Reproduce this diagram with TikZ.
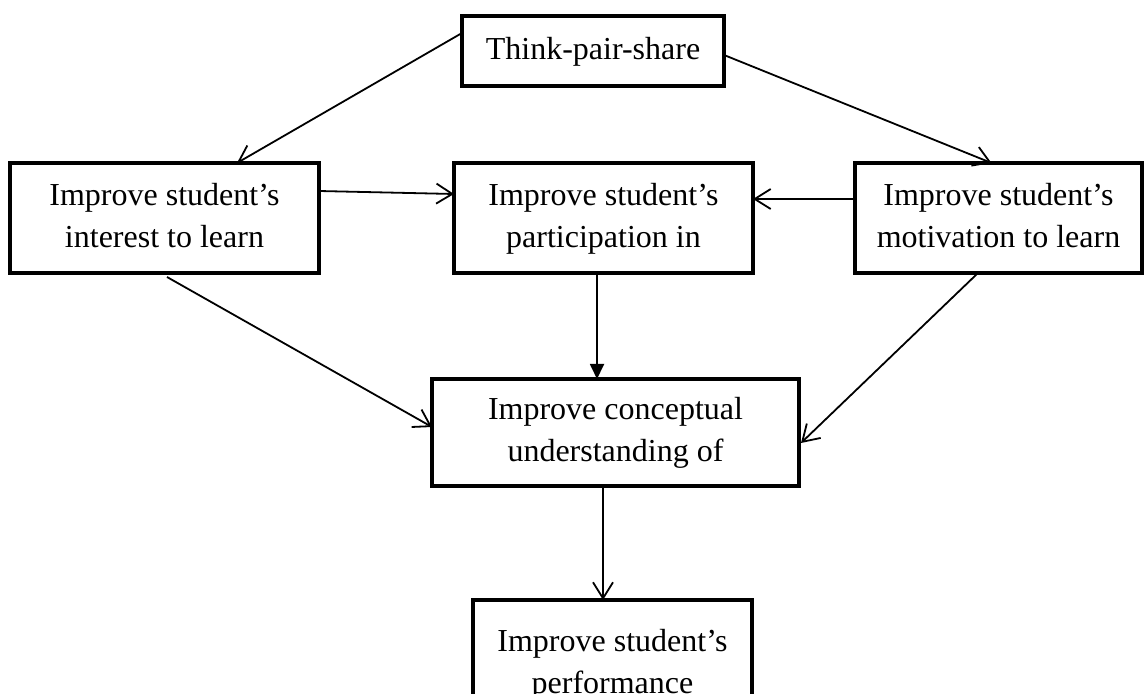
\documentclass[tikz,border=0pt]{standalone}
\usepackage{fontspec}
\setmainfont{Liberation Serif}
\usetikzlibrary{arrows.meta,calc}
\begin{document}
\begin{tikzpicture}[x=0.5pt,y=-0.5pt,
  box/.style={draw, line width=2pt, inner sep=0pt, outer sep=0pt, align=center,
    font=\fontsize{16}{21}\selectfont},
  conn/.style={line width=0.9pt, -{Straight Barb[length=8pt,width=10pt]}},
  fconn/.style={line width=0.9pt, -{Triangle[length=7.5pt,width=7pt]}}]
\clip (0,0) rectangle (1144,694);
\useasboundingbox (0,0) rectangle (1144,694);
\fill[white] (0,0) rectangle (1144,694);

\node[box, minimum width=131pt, minimum height=35pt] (think) at (593,51)
  {\strut Think-pair-share\strut};
\node[box, minimum width=154.5pt, minimum height=55pt] (interest) at (164.5,218)
  {\strut Improve student’s\\interest to learn\strut};
\node[box, minimum width=149.5pt, minimum height=55pt] (participation) at (603.5,218)
  {\strut Improve student’s\\participation in\strut};
\node[box, minimum width=143.5pt, minimum height=55pt] (motivation) at (998.5,218)
  {\strut Improve student’s\\motivation to learn\strut};
\node[box, minimum width=183.5pt, minimum height=53.5pt] (conceptual) at (615.5,432.5)
  {\strut Improve conceptual\\understanding of\strut};
\node[box, minimum width=139.5pt, minimum height=64.5pt] (performance) at (612.5,664.5)
  {\strut Improve student’s\\performance\strut};

\draw[conn] ($(think.west)+(0,-18)$) -- ($(interest.north)+(72.5,0)$);
\draw[conn] ($(think.east)+(0,4)$) -- ($(motivation.north)+(-7,0)$);
\draw[conn] ($(interest.east)+(0,-27)$) -- ($(participation.west)+(0,-24)$);
\draw[conn] ($(motivation.west)+(0,-19)$) -- ($(participation.east)+(0,-19)$);
\draw[fconn] ($(participation.south)+(-6.5,0)$) -- ($(conceptual.north)+(-18.5,0)$);
\draw[conn] ($(interest.south)+(2.5,4)$) -- ($(conceptual.west)+(0,-5.5)$);
\draw[conn] ($(motivation.south)+(-20.5,0)$) -- ($(conceptual.east)+(2,10.5)$);
\draw[conn] ($(conceptual.south)+(-12.5,0)$) -- ($(performance.north)+(-9.5,0)$);
\end{tikzpicture}
\end{document}
